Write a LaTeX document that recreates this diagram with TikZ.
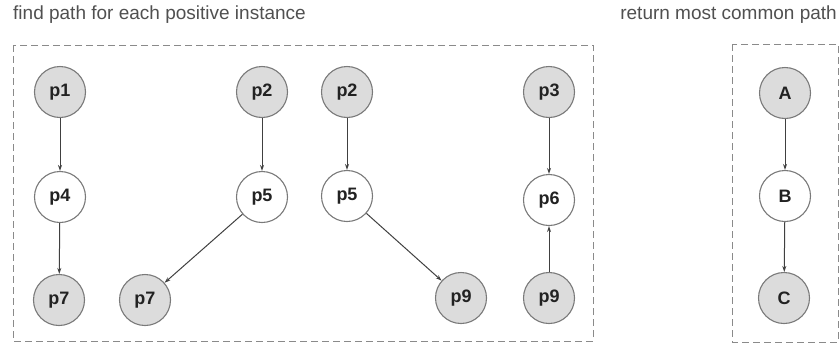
\documentclass[tikz,border=0pt]{standalone}
\usepackage{fontspec}
\setmainfont{Liberation Sans}
\usetikzlibrary{arrows.meta}
\definecolor{fillg}{HTML}{DCDCDC}
\definecolor{edgeg}{HTML}{7A7A7A}
\definecolor{arrowg}{HTML}{404040}
\definecolor{titleg}{HTML}{505050}
\definecolor{boxg}{HTML}{8A8A8A}
\definecolor{labelg}{HTML}{222222}
\tikzset{
  pnode/.style={circle, draw=edgeg, line width=1.1pt, minimum size=51pt, inner sep=0pt,
    font=\fontsize{18}{20}\selectfont\bfseries, text=labelg},
  posnode/.style={pnode, fill=fillg},
  negnode/.style={pnode, fill=white},
  conn/.style={draw=arrowg, line width=1pt, -{Stealth[length=6pt,width=4pt]}},
  dbox/.style={draw=boxg, line width=1pt, dash pattern=on 7pt off 4pt},
  ttl/.style={font=\fontsize{19}{22}\selectfont, text=titleg, inner sep=0pt}
}
\begin{document}
\begin{tikzpicture}[x=1pt,y=-1pt]
\useasboundingbox (0,0) rectangle (840,346);
% titles
\node[ttl, anchor=west] (t1) at (13,15) {find path for each positive instance};
\node[ttl, anchor=east] (t2) at (837,15) {return most common path};
% boxes
\draw[dbox] (13,45) rectangle (593,341);
\draw[dbox] (732,44) rectangle (838,342);
% nodes
\node[posnode] (p1) at (60,92) {p1};
\node[negnode] (p4) at (60,197) {p4};
\node[posnode] (p7a) at (59,300) {p7};
\node[posnode] (p2a) at (262,92) {p2};
\node[negnode] (p5a) at (262,197) {p5};
\node[posnode] (p7b) at (145,300) {p7};
\node[posnode] (p2b) at (347,92) {p2};
\node[negnode] (p5b) at (347,196) {p5};
\node[posnode] (p9a) at (461,298) {p9};
\node[posnode] (p3) at (549,92) {p3};
\node[negnode] (p6) at (549,200) {p6};
\node[posnode] (p9b) at (549,298) {p9};
\node[posnode] (A) at (785,93) {A};
\node[negnode] (B) at (785,196) {B};
\node[posnode] (C) at (784,298) {C};
% connectors
\draw[conn] (p1) -- (p4);
\draw[conn] (p4) -- (p7a);
\draw[conn] (p2a) -- (p5a);
\draw[conn] (p5a) -- (p7b);
\draw[conn] (p2b) -- (p5b);
\draw[conn] (p5b) -- (p9a);
\draw[conn] (p3) -- (p6);
\draw[conn] (p9b) -- (p6);
\draw[conn] (A) -- (B);
\draw[conn] (B) -- (C);
\end{tikzpicture}
\end{document}
